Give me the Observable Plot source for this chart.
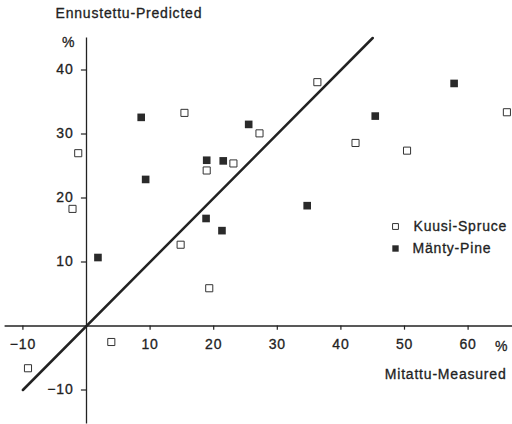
<!DOCTYPE html>
<html>
<head>
<meta charset="utf-8">
<script src="https://cdn.jsdelivr.net/npm/d3@7"></script>
<script src="https://cdn.jsdelivr.net/npm/@observablehq/plot@0.6"></script>
<style>
  html, body { margin: 0; padding: 0; background: #fff; }
  svg { display: block; }
  svg text { letter-spacing: 0.8px; stroke: #222; stroke-width: 0.3px; }
</style>
</head>
<body>
<div id="chart"></div>
<script>
// Kuusi-Spruce (open squares): measured, predicted
const spruceMeasured  = [-1.3, -2.2, 15.4, 18.9, 23.1, 27.2, 36.3, 66.1, 42.3, 50.4, 14.8, 19.3, 3.9, -9.2];
const sprucePredicted = [27.0, 18.3, 33.3, 24.3, 25.4, 30.1, 38.1, 33.4, 28.6, 27.4, 12.7, 5.9, -2.5, -6.6];
// Mänty-Pine (filled squares): measured, predicted
const pineMeasured  = [8.6, 9.3, 18.9, 21.5, 25.5, 57.8, 45.4, 34.7, 1.8, 18.8, 21.3];
const pinePredicted = [32.6, 22.9, 25.9, 25.8, 31.5, 37.9, 32.8, 18.8, 10.7, 16.8, 14.9];
// 1:1 line
const lineX = [-10, 45];
const lineY = [-10, 45];
// tick labels
const xTicks = [-10, 10, 20, 30, 40, 50, 60];
const yTicks = [40, 30, 20, 10, -10];
const seriesNames = ["Kuusi-Spruce", "Mänty-Pine"];
const yTitle = "Ennustettu-Predicted";
const xTitle = "Mitattu-Measured";

const spruce = spruceMeasured.map((m, i) => ({m, p: sprucePredicted[i]}));
const pine = pineMeasured.map((m, i) => ({m, p: pinePredicted[i]}));
const diag = lineX.map((x, i) => ({x, y: lineY[i]}));

const ink = "#222";
const font = "'Liberation Sans', Arial, Helvetica, sans-serif";
const fmt = d => d < 0 ? "\u2212" + Math.abs(d) : String(d);
const label = (t, dx, dy, anchor = "start") =>
  Plot.text([t], {frameAnchor: "top-left", dx, dy, textAnchor: anchor, lineAnchor: "middle", fontSize: 14, fill: ink});

const chart = Plot.plot({
  width: 512,
  height: 424,
  margin: 0,
  style: {fontFamily: font, fontSize: "14px", color: ink, background: "#fff"},
  x: {type: "linear", domain: [-10, 60], range: [22.4, 467.6], axis: null},
  y: {type: "linear", domain: [-10, 40], range: [389.5, 69.5], axis: null},
  marks: [
    // axes lines
    Plot.ruleY([0], {x1: -12.8, x2: 67, stroke: ink, strokeWidth: 1.3}),
    Plot.ruleX([0], {y1: -15.3, y2: 45, stroke: ink, strokeWidth: 1.3}),
    // ticks
    Plot.ruleX(xTicks, {x: d => d, y1: 0, y2: -0.65, stroke: ink, strokeWidth: 1.2}),
    Plot.ruleY(yTicks, {y: d => d, x1: -0.8, x2: 0, stroke: ink, strokeWidth: 1.2}),
    // tick labels
    Plot.text(xTicks, {x: d => d, y: 0, dy: 19, text: fmt, fontSize: 14, fill: ink}),
    Plot.text(yTicks, {x: 0, y: d => d, dx: -13, textAnchor: "end", text: fmt, fontSize: 14, fill: ink}),
    // percent signs
    label("%", 68, 42, "middle"),
    label("%", 501, 346, "middle"),
    // titles
    label(yTitle, 55, 13),
    label(xTitle, 506, 374, "end"),
    // 1:1 line
    Plot.line(diag, {x: "x", y: "y", stroke: ink, strokeWidth: 2.5}),
    // points
    Plot.dot(spruce, {x: "m", y: "p", symbol: "square", r: 4, stroke: "#333", strokeWidth: 1, fill: "#fff"}),
    Plot.dot(pine, {x: "m", y: "p", symbol: "square", r: 4.3, fill: "#2a2a2a", stroke: "none"}),
    // legend
    Plot.dot([0], {frameAnchor: "top-left", dx: 395, dy: 226, symbol: "square", r: 3.3, stroke: "#333", strokeWidth: 1, fill: "#fff"}),
    Plot.dot([0], {frameAnchor: "top-left", dx: 395, dy: 248, symbol: "square", r: 3.6, fill: "#2a2a2a", stroke: "none"}),
    label(seriesNames[0], 413, 226),
    label(seriesNames[1], 412, 248)
  ]
});
document.getElementById("chart").appendChild(chart);
</script>
</body>
</html>
